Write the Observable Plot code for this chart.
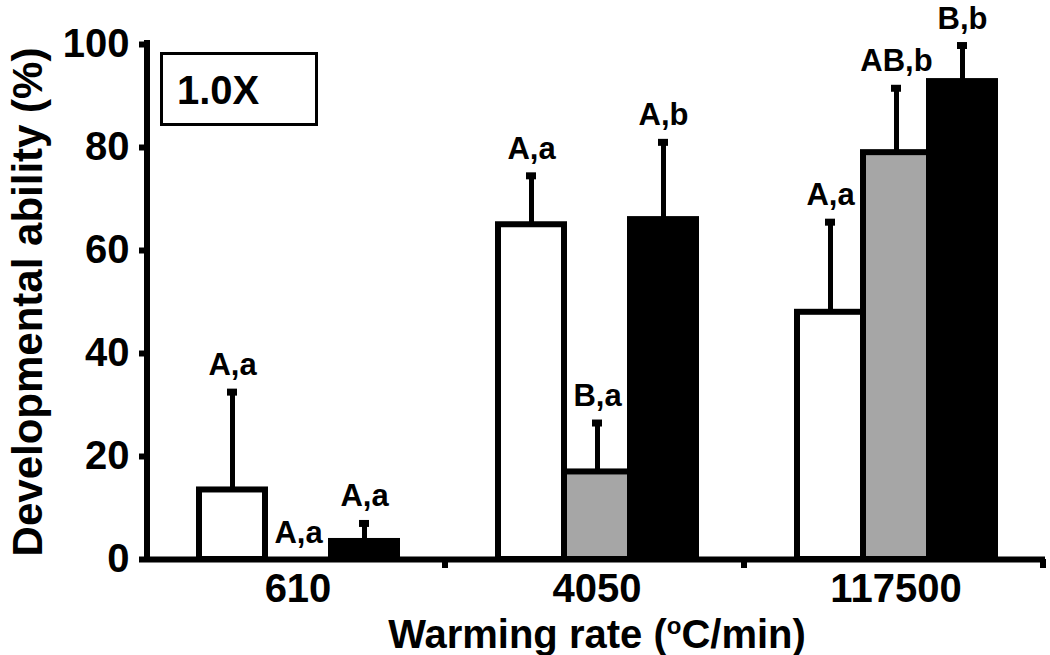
<!DOCTYPE html>
<html><head><meta charset="utf-8">
<script src="https://cdn.jsdelivr.net/npm/d3@7"></script>
<script src="https://cdn.jsdelivr.net/npm/@observablehq/plot@0.6"></script>
<style>
body{margin:0;background:#fff;font-family:"Liberation Sans",Arial,sans-serif;}
#wrap{position:relative;width:1050px;height:655px;}
#box{position:absolute;left:160px;top:52px;width:138px;height:68px;border:3px solid #000;font-weight:bold;font-size:40px;line-height:70px;padding-left:14px;background:#fff;}
</style></head><body>
<div id="wrap"></div>
<script>
const groups = ["610", "4050", "117500"];
const series = ["s1", "s2", "s3"];
const seriesColors = ["#ffffff", "#a6a6a6", "#000000"];
const means = [[13.5, 0, 3.5], [65, 17, 66], [48, 79, 92.8]];
const errTops = [[32.5, null, 7], [74.5, 26.5, 81], [65.5, 91.5, 99.8]];
const letters = [["A,a", "A,a", "A,a"], ["A,a", "B,a", "A,b"], ["A,a", "AB,b", "B,b"]];
const yTicks = [0, 20, 40, 60, 80, 100];
const yTitle = "Developmental ability (%)";
const xTitle = "Warming rate (°C/min)";
const boxText = "1.0X";

const data = [];
groups.forEach((g, i) => series.forEach((s, j) => {
  data.push({group: g, series: s, value: means[i][j], err: errTops[i][j], label: letters[i][j]});
}));
const withErr = data.filter(d => d.err != null);

const plot = Plot.plot({
  width: 1050, height: 655,
  marginLeft: 147, marginRight: 5, marginTop: 44, marginBottom: 96,
  style: {fontFamily: "'Liberation Sans', Arial, sans-serif", background: "transparent", color: "#000"},
  fx: {domain: groups, paddingInner: 0, paddingOuter: 0, label: null},
  x: {domain: series, paddingInner: 0, paddingOuter: 0.74, axis: null},
  y: {domain: [0, 100], axis: null},
  color: {domain: series, range: seriesColors},
  marks: [
    Plot.ruleX(withErr, {fx: "group", x: "series", y1: "value", y2: "err", strokeWidth: 5, stroke: "#000"}),
    Plot.tickY(withErr, {fx: "group", x: "series", y: "err", strokeWidth: 7, stroke: "#000", insetLeft: 28, insetRight: 28}),
    Plot.barY(data, {fx: "group", x: "series", y: "value", fill: "series", stroke: "#000", strokeWidth: 6}),
    Plot.ruleY([0], {strokeWidth: 6, stroke: "#000"}),
    Plot.text(data, {fx: "group", x: "series", y: d => d.err ?? d.value, text: "label", lineAnchor: "bottom", dy: -17, fontSize: 31, fontWeight: "bold", fill: "#000"}),
    Plot.axisY({ticks: yTicks, tickSize: 9, tickPadding: 10, strokeWidth: 6, fontSize: 40, fontWeight: "bold", label: yTitle, labelAnchor: "center", labelOffset: 136, labelArrow: "none"}),
    Plot.axisFx({anchor: "bottom", tickSize: 0, tickPadding: 14, fontSize: 40, fontWeight: "bold", label: xTitle, labelAnchor: "center", labelOffset: 88, labelArrow: "none"})
  ]
});

const wrap = document.getElementById("wrap");
wrap.appendChild(plot);
const box = document.createElement("div");
box.id = "box";
box.textContent = boxText;
wrap.appendChild(box);

const svg = d3.select(plot.tagName.toLowerCase() === "svg" ? plot : plot.querySelector("svg"));
const ys = plot.scale("y"), fxs = plot.scale("fx");
const y0 = ys.apply(0), y100 = ys.apply(100);
svg.append("line").attr("x1", 147).attr("x2", 147).attr("y1", y100 - 4).attr("y2", y0 + 3)
  .attr("stroke", "#000").attr("stroke-width", 6);
groups.forEach(g => {
  const xb = fxs.apply(g) + fxs.bandwidth;
  svg.append("line").attr("x1", xb - 2).attr("x2", xb - 2).attr("y1", y0).attr("y2", y0 + 9)
    .attr("stroke", "#000").attr("stroke-width", 6);
});
svg.selectAll("text").each(function() {
  const t = this.textContent;
  if (t === yTitle) {
    d3.select(this).attr("font-size", 42);
  } else if (t === xTitle) {
    const s = d3.select(this).attr("font-size", 40);
    s.text(null);
    s.append("tspan").text("Warming rate (");
    s.append("tspan").attr("font-size", 24).attr("dy", -14).text("o");
    s.append("tspan").attr("dy", 14).text("C/min)");
  }
});
</script>
</body></html>
